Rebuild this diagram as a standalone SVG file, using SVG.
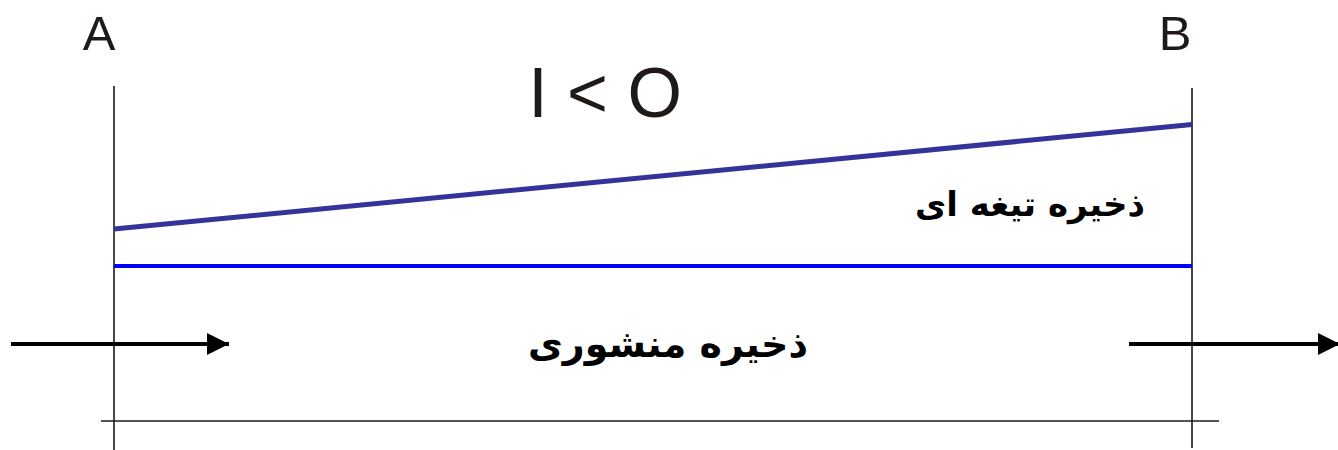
<svg xmlns="http://www.w3.org/2000/svg" width="1338" height="450" viewBox="0 0 1338 450">
<style>
.lbl{font-family:"Liberation Sans",Arial,sans-serif;fill:#1f1a17}
.fa{font-family:"DejaVu Sans",sans-serif;font-weight:bold;fill:#000}
.thin{stroke:#1f1a17;stroke-width:1.6;fill:none}
.flow{stroke:#000;stroke-width:3.8;fill:none}
</style>
<defs>
<marker id="ah" markerWidth="22" markerHeight="22" viewBox="0 0 22 22" refX="22" refY="11" orient="auto" markerUnits="userSpaceOnUse">
<path d="M0,0 L22,11 L0,22 Z" fill="#000"/>
</marker>
</defs>
<rect width="1338" height="450" fill="#fff"/>
<g id="frame">
<line class="thin" x1="114" y1="86" x2="114" y2="450"/>
<line class="thin" x1="1192" y1="88" x2="1192" y2="448"/>
<line class="thin" x1="101" y1="421" x2="1219" y2="421"/>
</g>
<g id="levels">
<line x1="114" y1="229" x2="1192" y2="124.5" stroke="#333399" stroke-width="5"/>
<line x1="114" y1="266" x2="1192" y2="266" stroke="#0000ff" stroke-width="4"/>
</g>
<g id="connectors">
<line class="flow" x1="11" y1="344" x2="229" y2="344" marker-end="url(#ah)"/>
<line class="flow" x1="1129" y1="344" x2="1340" y2="344" marker-end="url(#ah)"/>
</g>
<g id="labelA"><text class="lbl" x="99" y="50" font-size="49" text-anchor="middle">A</text></g>
<g id="labelB"><text class="lbl" x="1175" y="50" font-size="49" text-anchor="middle">B</text></g>
<g id="title"><text class="lbl" x="605" y="117" font-size="70" text-anchor="middle">I &lt; O</text></g>
<g id="blade"><text class="fa" x="1030" y="216" font-size="34" text-anchor="middle" direction="rtl">ذخیره تیغه ای</text></g>
<g id="prism"><text class="fa" x="668" y="357" font-size="38" text-anchor="middle" direction="rtl">ذخیره منشوری</text></g>
</svg>
